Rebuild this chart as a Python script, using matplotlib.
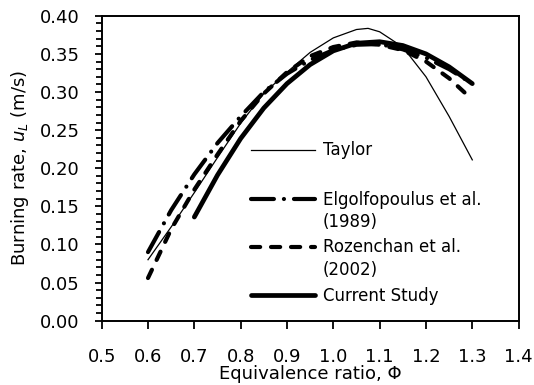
import matplotlib
matplotlib.use("Agg")
import matplotlib.pyplot as plt
import matplotlib.ticker as ticker

plt.rcParams["font.family"] = ["DejaVu Sans"]

# Equivalence ratio / burning rate (m/s)
PHI_TAYLOR = [0.60, 0.65, 0.70, 0.75, 0.80, 0.85, 0.90, 0.95, 1.00, 1.05, 1.075, 1.10, 1.15, 1.20, 1.25, 1.30]
SL_TAYLOR = [0.080, 0.123, 0.168, 0.214, 0.259, 0.298, 0.326, 0.352, 0.371, 0.382, 0.3835, 0.379, 0.359, 0.320, 0.268, 0.211]

PHI_EGOLF = [0.60, 0.65, 0.70, 0.75, 0.80, 0.85, 0.90, 0.95, 1.00, 1.05, 1.10, 1.15, 1.20, 1.25, 1.30]
SL_EGOLF = [0.090, 0.145, 0.192, 0.233, 0.268, 0.300, 0.324, 0.342, 0.355, 0.362, 0.363, 0.356, 0.345, 0.330, 0.311]

PHI_ROZEN = [0.60, 0.65, 0.70, 0.75, 0.80, 0.85, 0.90, 0.95, 1.00, 1.05, 1.10, 1.15, 1.20, 1.25, 1.30]
SL_ROZEN = [0.056, 0.120, 0.172, 0.218, 0.262, 0.298, 0.326, 0.347, 0.359, 0.365, 0.362, 0.355, 0.340, 0.318, 0.290]

PHI_CURRENT = [0.70, 0.75, 0.80, 0.85, 0.90, 0.95, 1.00, 1.05, 1.10, 1.15, 1.20, 1.25, 1.30]
SL_CURRENT = [0.136, 0.191, 0.239, 0.279, 0.311, 0.336, 0.354, 0.364, 0.366, 0.361, 0.350, 0.333, 0.311]

LABELS = ["Taylor", "Elgolfopoulus et al.\n(1989)", "Rozenchan et al.\n(2002)", "Current Study"]

STYLES = [
    dict(lw=0.9, ls="-"),
    dict(lw=3.0, ls=(0, (5.5, 2.4, 0.01, 2.4)), dash_capstyle="round"),
    dict(lw=3.0, ls=(0, (2.2, 2.6)), dash_capstyle="round"),
    dict(lw=3.4, ls="-", solid_capstyle="round"),
]

fig = plt.figure(figsize=(5.34, 3.85), dpi=100)
ax = fig.add_axes([0.1904, 0.167, 0.7808, 0.792])

series = [(PHI_TAYLOR, SL_TAYLOR), (PHI_EGOLF, SL_EGOLF), (PHI_ROZEN, SL_ROZEN), (PHI_CURRENT, SL_CURRENT)]
for (x, y), st in zip(series, STYLES):
    ax.plot(x, y, color="black", **st)

ax.set_xlim(0.5, 1.4)
ax.set_ylim(0.0, 0.40)
ax.xaxis.set_major_locator(ticker.MultipleLocator(0.1))
ax.xaxis.set_major_formatter(ticker.FormatStrFormatter("%.1f"))
ax.yaxis.set_major_locator(ticker.MultipleLocator(0.05))
ax.yaxis.set_minor_locator(ticker.MultipleLocator(0.01))
ax.yaxis.set_major_formatter(ticker.FormatStrFormatter("%.2f"))

for sp in ax.spines.values():
    sp.set_linewidth(1.4)
ax.tick_params(axis="both", which="both", direction="out", width=1.3, labelsize=13)
ax.tick_params(axis="y", which="major", length=5, pad=11)
ax.tick_params(axis="y", which="minor", length=4)
ax.tick_params(axis="x", which="major", length=6, pad=14)

ax.set_xlabel("Equivalence ratio, \u03a6", fontsize=13, labelpad=-1)
ax.set_ylabel("Burning rate, $u_L$ (m/s)", fontsize=13, labelpad=6)

# hand-placed legend: handle sits on the first line of each label
hx = [0.358, 0.512]
hy = [0.560, 0.399, 0.242, 0.084]
for yy, st, lab in zip(hy, STYLES, LABELS):
    ax.plot(hx, [yy, yy], color="black", transform=ax.transAxes, clip_on=False, **st)
    ax.text(0.531, yy + 0.028, lab, transform=ax.transAxes, fontsize=12,
            va="top", ha="left", linespacing=1.35)

fig.savefig("out.png", dpi=100)
